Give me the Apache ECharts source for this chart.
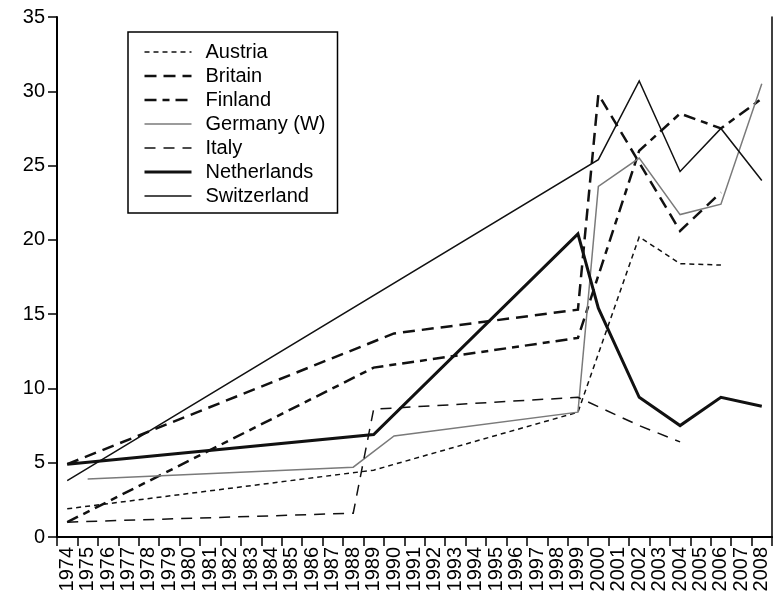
<!DOCTYPE html>
<html><head><meta charset="utf-8">
<script src="https://cdn.jsdelivr.net/npm/echarts@6/dist/echarts.min.js"></script>
<style>html,body{margin:0;padding:0;background:#fff}#c{width:774px;height:604px}</style>
</head><body><div id="c"></div>
<script>
const years = ['1974','1975','1976','1977','1978','1979','1980','1981','1982','1983','1984','1985','1986','1987','1988','1989','1990','1991','1992','1993','1994','1995','1996','1997','1998','1999','2000','2001','2002','2003','2004','2005','2006','2007','2008'];
const yTicks = [0,5,10,15,20,25,30,35];

const austriaYears = ['1974','1989','1999','2002','2004','2006'];
const austriaValues = [1.9,4.5,8.4,20.2,18.4,18.3];

const britainYears = ['1974','1990','1999','2000','2004','2006'];
const britainValues = [4.9,13.7,15.3,29.8,20.6,23.2];

const finlandYears = ['1974','1989','1999','2002','2004','2006','2008'];
const finlandValues = [1.0,11.4,13.4,26.0,28.5,27.5,29.5];

const germanyYears = ['1975','1988','1990','1999','2000','2002','2004','2006','2008'];
const germanyValues = [3.9,4.7,6.8,8.4,23.6,25.5,21.7,22.4,30.5];

const italyYears = ['1974','1988','1989','1999','2002','2004'];
const italyValues = [1.0,1.6,8.6,9.4,7.5,6.4];

const netherlandsYears = ['1974','1989','1999','2000','2002','2004','2006','2008'];
const netherlandsValues = [4.9,6.9,20.4,15.4,9.4,7.5,9.4,8.8];

const switzerlandYears = ['1974','2000','2002','2004','2006','2008'];
const switzerlandValues = [3.8,25.4,30.7,24.6,27.5,24.0];

const zip = (xs, vs) => xs.map((x, i) => [x, vs[i]]);
const FONT = '"Liberation Sans", Arial, Helvetica, sans-serif';
const INK = '#111';
const GREY = '#7a7a7a';

const styles = {
  'Austria':     { color: INK,  width: 1.5, type: [5, 4] },
  'Britain':     { color: INK,  width: 2.5, type: [12, 7] },
  'Finland':     { color: INK,  width: 2.5, type: [12, 6, 7, 6] },
  'Germany (W)': { color: GREY, width: 1.5, type: 'solid' },
  'Italy':       { color: INK,  width: 1.5, type: [11, 8] },
  'Netherlands': { color: INK,  width: 3,   type: 'solid' },
  'Switzerland': { color: INK,  width: 1.5, type: 'solid' }
};

function mk(name, xs, vs) {
  const ls = styles[name];
  return {
    name, type: 'line', data: zip(xs, vs), symbol: 'none', showSymbol: false,
    lineStyle: Object.assign({ cap: 'butt', join: 'miter' }, ls),
    itemStyle: { color: ls.color },
    emphasis: { disabled: true }, animation: false
  };
}

const legendNames = ['Austria', 'Britain', 'Finland', 'Germany (W)', 'Italy', 'Netherlands', 'Switzerland'];

const chart = echarts.init(document.getElementById('c'), null, { renderer: 'canvas' });
chart.setOption({
  backgroundColor: '#fff',
  animation: false,
  textStyle: { fontFamily: FONT },
  grid: { left: 57, right: 2, top: 17, bottom: 67, containLabel: false },
  legend: {
    orient: 'vertical', left: 128, top: 32,
    itemWidth: 47, itemHeight: 14, itemGap: 0,
    padding: [8, 12, 5, 15],
    borderColor: '#000', borderWidth: 1.5, backgroundColor: '#fff',
    itemStyle: { opacity: 0 },
    textStyle: { fontSize: 20, color: '#000', lineHeight: 24, fontFamily: FONT, padding: [0, 0, 0, 9] },
    data: legendNames.map(n => ({
      name: n,
      itemStyle: { opacity: 0 },
      lineStyle: { color: styles[n].color, width: styles[n].width, type: styles[n].type, opacity: 1 }
    })),
    selectedMode: false
  },
  xAxis: [{
    type: 'category', data: years, boundaryGap: true,
    axisLine: { lineStyle: { color: '#000', width: 2 } },
    axisTick: { show: true, length: 9, interval: 0, lineStyle: { color: '#000', width: 1.5 } },
    axisLabel: { rotate: 90, interval: 0, fontSize: 20, color: '#000', margin: 10, fontFamily: FONT },
    splitLine: { show: false }
  }, {
    type: 'category', data: years, position: 'top', boundaryGap: true,
    axisLine: { show: true, lineStyle: { color: '#000', width: 1.5 } },
    axisTick: { show: false }, axisLabel: { show: false }, splitLine: { show: false }
  }],
  yAxis: [{
    type: 'value', min: yTicks[0], max: yTicks[yTicks.length - 1], interval: 5,
    axisLine: { show: true, lineStyle: { color: '#000', width: 2 } },
    axisTick: { show: true, length: 9, lineStyle: { color: '#000', width: 1.5 } },
    axisLabel: { fontSize: 20, color: '#000', margin: 12, fontFamily: FONT },
    splitLine: { show: false }
  }, {
    type: 'value', min: yTicks[0], max: yTicks[yTicks.length - 1], interval: 5, position: 'right',
    axisLine: { show: true, lineStyle: { color: '#000', width: 1.5 } },
    axisTick: { show: false }, axisLabel: { show: false }, splitLine: { show: false }
  }],
  series: [
    mk('Austria', austriaYears, austriaValues),
    mk('Britain', britainYears, britainValues),
    mk('Finland', finlandYears, finlandValues),
    mk('Germany (W)', germanyYears, germanyValues),
    mk('Italy', italyYears, italyValues),
    mk('Netherlands', netherlandsYears, netherlandsValues),
    mk('Switzerland', switzerlandYears, switzerlandValues)
  ]
});
</script>
</body></html>
